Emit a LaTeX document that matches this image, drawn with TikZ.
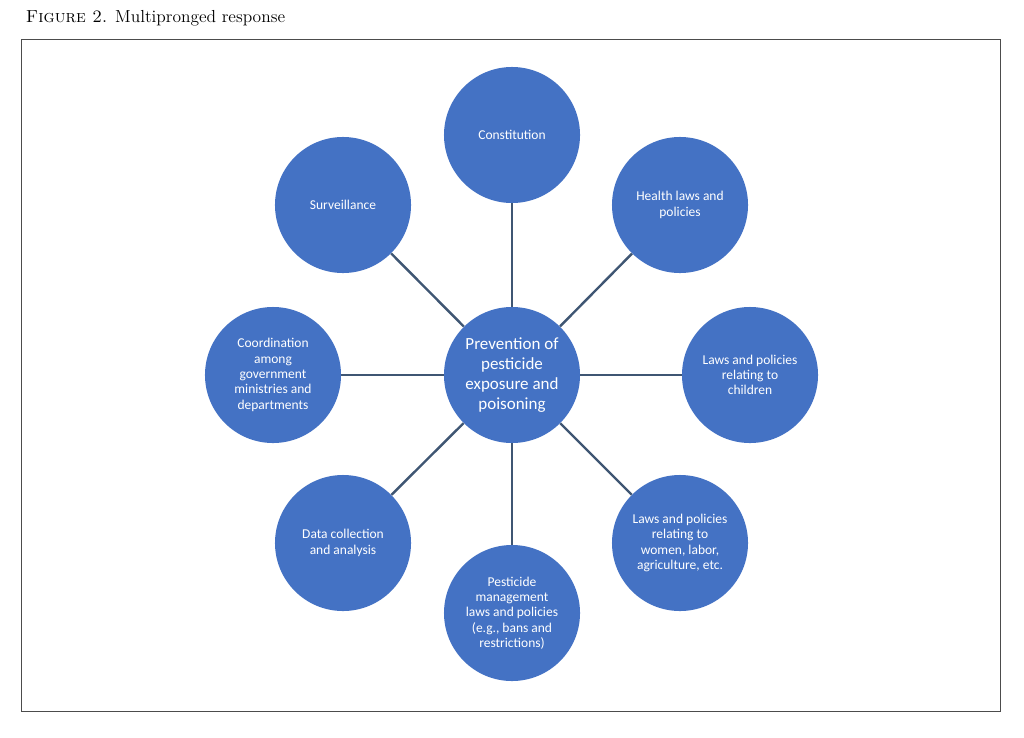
\documentclass[tikz,border=0pt]{standalone}
\usepackage{fontspec}
\newfontfamily\calibri{Carlito}
\usetikzlibrary{positioning}
\definecolor{prongblue}{HTML}{4472C4}
\definecolor{spokegray}{HTML}{3F5673}
\tikzset{
  prongnode/.style = {align=center, inner sep=0pt, text centered, font=\calibri},
  Hub/.style = {prongnode, circle, white, font=\calibri\fontsize{12.1}{14.2}\selectfont, fill=prongblue, minimum size=3.4cm},
  Prong/.style = {prongnode, circle, white, font=\calibri\fontsize{9.6}{10.9}\selectfont, fill=prongblue, minimum size=3.4cm},
  Spoke/.style = {draw=spokegray, line width=1.7pt}
}
\begin{document}
\begin{tikzpicture}[x=0.025cm,y=-0.025cm]
  \useasboundingbox (0,0) rectangle (1024,737);
  \node [anchor=base west, font=\fontsize{12.4}{15}\selectfont] (title) at (21,22) {\textsc{Figure 2.} Multipronged response};
  \draw [draw=black!70, line width=0.6pt] (21,39) rectangle (1000,711);
  % hub
  \node [Hub] (hub) at (512,375) {Prevention of\\pesticide\\exposure and\\poisoning};
  % prongs
  \node [Prong] (constitution) at (512,135) {Constitution};
  \node [Prong] (health) at (680,205) {Health laws and\\policies};
  \node [Prong] (children) at (750,375) {Laws and policies\\relating to\\children};
  \node [Prong] (women) at (680,543) {Laws and policies\\relating to\\women, labor,\\agriculture, etc.};
  \node [Prong] (pesticide) at (512,613) {Pesticide\\management\\laws and policies\\(e.g., bans and\\restrictions)};
  \node [Prong] (data) at (343,543) {Data collection\\and analysis};
  \node [Prong] (coordination) at (273,375) {Coordination\\among\\government\\ministries and\\departments};
  \node [Prong] (surveillance) at (343,205) {Surveillance};
  % spokes
  \draw [Spoke] (hub) -- (constitution);
  \draw [Spoke] (hub) -- (health);
  \draw [Spoke] (hub) -- (children);
  \draw [Spoke] (hub) -- (women);
  \draw [Spoke] (hub) -- (pesticide);
  \draw [Spoke] (hub) -- (data);
  \draw [Spoke] (hub) -- (coordination);
  \draw [Spoke] (hub) -- (surveillance);
\end{tikzpicture}
\end{document}
